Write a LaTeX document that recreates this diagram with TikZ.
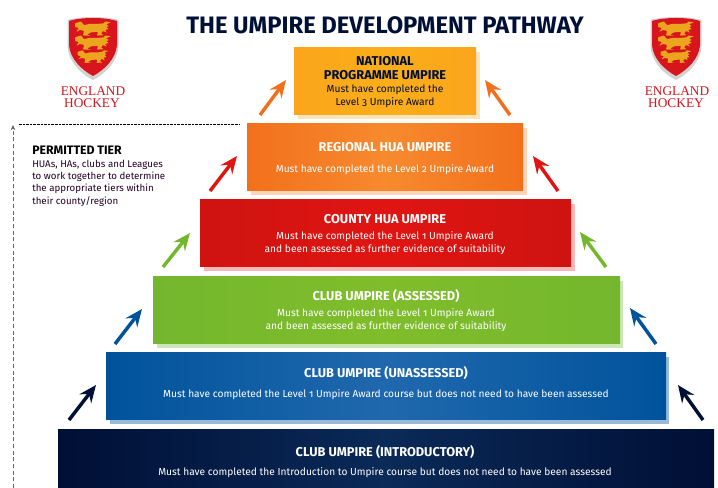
\documentclass[tikz,border=0pt]{standalone}
\usepackage{fontspec}
\setmainfont[Numbers=OldStyle]{Fira Sans}
\newfontfamily\logofont{Liberation Serif}
\usetikzlibrary{arrows.meta}
\definecolor{navyc}{HTML}{000F35}
\definecolor{navymid}{HTML}{0A2A58}
\definecolor{bluec}{HTML}{00539B}
\definecolor{bluemid}{HTML}{2068AE}
\definecolor{greenc}{HTML}{74B72E}
\definecolor{redc}{HTML}{E01512}
\definecolor{orangec}{HTML}{F2701C}
\definecolor{orangemid}{HTML}{F78A2E}
\definecolor{amberc}{HTML}{FBA51C}
\definecolor{logored}{HTML}{D8141C}
\definecolor{logogold}{HTML}{EBA51E}
\tikzset{
 headw/.style={font=\fontsize{9.6pt}{11pt}\selectfont\bfseries,text=white,inner sep=0pt},
 bodyw/.style={font=\fontsize{7.65pt}{9pt}\selectfont,text=white,inner sep=0pt},
 headk/.style={headw,text=navyc},
 bodyk/.style={bodyw,text=navyc!85!black},
 uparrow/.style={draw=#1,line width=2.6pt,-{Stealth[length=13pt,width=11pt,inset=4.5pt]}},
 logotext/.style={font=\logofont\fontsize{10pt}{11pt}\selectfont,text=logored,inner sep=0pt},
 sidetext/.style={anchor=west,inner sep=0pt,font=\fontsize{7.3pt}{9pt}\selectfont,text=black!65!violet!80!black},
 lion/.pic={
  \fill[logogold,rounded corners=0.5pt] (-18,-6)--(-12,-8)--(-9,-4)--(-3,-5.5)--(6,-5.5)--(11,-6)--(12,-8)--(18,-7)--(13,-5)--(16,-3)--(13,-2)--(16,0)--(12,1)--(14,4)--(10,2)--(8,5)--(11,6.5)--(4,7)--(5,3)--(-2,3.5)--(-6,6)--(-2,7)--(-10,7)--(-9,2)--(-13,1)--(-17,3)--(-14,-1)--(-18,-2)--cycle;
 },
 hockeylogo/.pic={
  \fill[black!18] (-25.5,3) .. controls (-12,-1) and (12,-1) .. (25.5,3) -- (25.5,28) .. controls (25,45) and (12,57) .. (0,63) .. controls (-12,57) and (-25,45) .. (-25.5,28) -- cycle;
  \fill[logored] (-24,4) .. controls (-12,0) and (12,0) .. (24,4) -- (24,28) .. controls (23,42) and (11,53) .. (0,59) .. controls (-11,53) and (-23,42) .. (-24,28) -- cycle;
  \pic[xscale=1,yscale=0.95] at (0,12) {lion};
  \pic[xscale=1,yscale=0.95] at (0,26) {lion};
  \pic[xscale=0.86,yscale=0.85] at (0,40) {lion};
 }
}
\begin{document}
\begin{tikzpicture}[x=0.75pt,y=-0.75pt]
\useasboundingbox (0,0) rectangle (718,488);
% title
\node[inner sep=0pt,font=\fontsize{17.85pt}{20pt}\selectfont\bfseries,text=navyc] (title) at (385,25) {THE UMPIRE DEVELOPMENT PATHWAY};
% logos
\pic at (93,17) {hockeylogo};
\node[logotext] (engl) at (93,91) {ENGLAND};
\node[logotext] (hockl) at (92,103) {HOCKEY};
\pic at (676,17) {hockeylogo};
\node[logotext] (engr) at (677,91) {ENGLAND};
\node[logotext] (hockr) at (676,103) {HOCKEY};
% shadows
\fill[amberc!30]  (298,52) rectangle (480,119);
\fill[orangec!30] (251,128) rectangle (527,195);
\fill[redc!30]    (204,204) rectangle (575,271);
\fill[greenc!35]  (157,281) rectangle (623,348);
\fill[bluec!40]   (110,357) rectangle (669,424);
% tiers
\path[left color=amberc,right color=amberc,middle color=amberc!90!yellow] (294,48) rectangle (476,115);
\path[left color=orangec,right color=orangec,middle color=orangemid] (247,124) rectangle (523,191);
\path[left color=redc!92!black,right color=redc!92!black,middle color=redc] (200,200) rectangle (571,267);
\path[left color=greenc,right color=greenc,middle color=greenc!92!yellow] (153,277) rectangle (620,344);
\path[left color=bluec,right color=bluec,middle color=bluemid] (106,353) rectangle (666,420);
\path[left color=navyc,right color=navyc,middle color=navymid] (58,429) rectangle (714,488);
% texts
\begin{scope}[shift={(0,1)}]
\node[headk] (t1a) at (385,60) {NATIONAL};
\node[headk] (t1b) at (385,74) {PROGRAMME UMPIRE};
\node[bodyk] (t1c) at (385,89) {Must have completed the};
\node[bodyk] (t1d) at (385,102) {Level 3 Umpire Award};
\node[headw] (t2a) at (385,146) {REGIONAL HUA UMPIRE};
\node[bodyw] (t2b) at (385,169) {Must have completed the Level 2 Umpire Award};
\node[headw] (t3a) at (385,218) {COUNTY HUA UMPIRE};
\node[bodyw] (t3b) at (385,236) {Must have completed the Level 1 Umpire Award};
\node[bodyw] (t3c) at (385,249) {and been assessed as further evidence of suitability};
\node[headw] (t4a) at (386,295) {CLUB UMPIRE (ASSESSED)};
\node[bodyw] (t4b) at (386,313) {Must have completed the Level 1 Umpire Award};
\node[bodyw] (t4c) at (386,326) {and been assessed as further evidence of suitability};
\node[headw] (t5a) at (386,372) {CLUB UMPIRE (UNASSESSED)};
\node[bodyw] (t5b) at (386,394) {Must have completed the Level 1 Umpire Award course but does not need to have been assessed};
\node[headw] (t6a) at (385,451) {CLUB UMPIRE (INTRODUCTORY)};
\node[bodyw] (t6b) at (385,472) {Must have completed the Introduction to Umpire course but does not need to have been assessed};
\end{scope}
% side note
\node[sidetext,font=\fontsize{9.2pt}{10pt}\selectfont\bfseries,text=black] (pt) at (32,150) {PERMITTED TIER};
\node[sidetext] (p1) at (32,165) {HUAs, HAs, clubs and Leagues};
\node[sidetext] (p2) at (32,177) {to work together to determine};
\node[sidetext] (p3) at (32,189) {the appropriate tiers within};
\node[sidetext] (p4) at (32,202) {their county/region};
% dashed guides
\coordinate (hs) at (19,124); \coordinate (he) at (240,124);
\coordinate (vs) at (13,488); \coordinate (ve) at (13,125);
\draw[black,dash pattern=on 2pt off 0.7pt,line width=0.5pt] (hs) -- (he);
\draw[black!60,densely dashed,line width=0.6pt,-{Stealth[length=4pt,width=3.5pt]}] (vs) -- (ve);
% arrows
\foreach \n/\c/\ax/\ay/\bx/\by in {oa/orangec/260/115/286/80,ob/orangec/510/115/485/80,
 ra/redc/210/191/237/156,rb/redc/558/191/533/156,
 ga/greenc/163/267/190/233,gb/greenc/606/267/580/232,
 ba/bluec/115/344/142/309,bb/bluec/656/344/630/308,
 na/navyc/69/420/96/385,nb/navyc/703/420/678/385}{
 \coordinate (\n s) at (\ax,\ay); \coordinate (\n e) at (\bx,\by);
 \draw[uparrow=\c] (\n s) -- (\n e);
}
\end{tikzpicture}
\end{document}
